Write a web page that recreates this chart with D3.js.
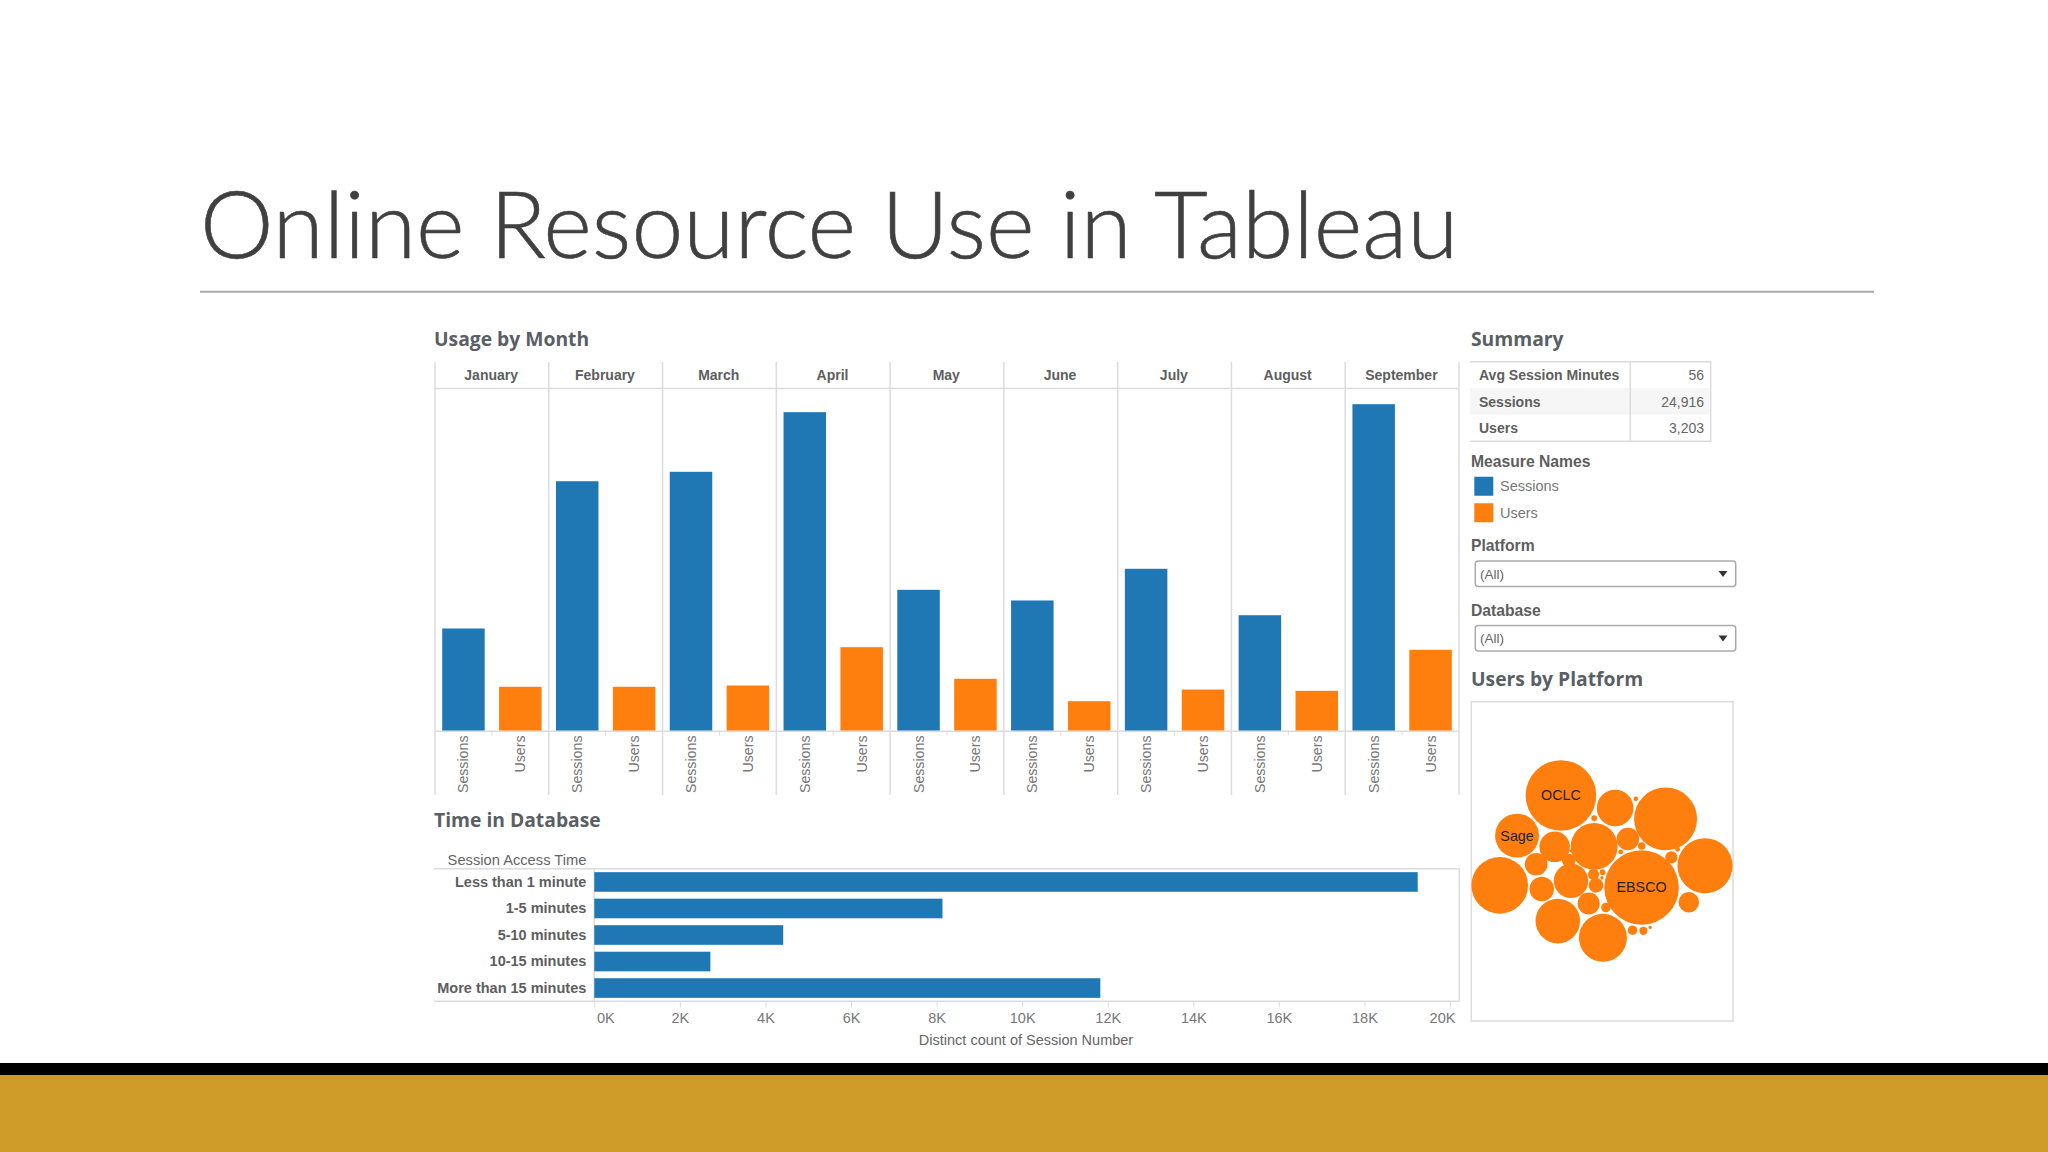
<!DOCTYPE html>
<html>
<head>
<meta charset="utf-8">
<style>
  html, body { margin: 0; padding: 0; background: #fff; }
  svg { display: block; }
  text { font-family: "Liberation Sans", Arial, sans-serif; }
  .section { font-family: "Open Sans", sans-serif; font-weight: 700; font-size: 19.3px; fill: #5a5f66; }
  .axis path, .axis line { stroke: #dcdce0; }
</style>
</head>
<body>
<svg id="chart" width="2048" height="1152"></svg>
<script src="https://cdn.jsdelivr.net/npm/d3@7"></script>
<script>
// ==========================================
// DATA
// ==========================================
const months = ['January', 'February', 'March', 'April', 'May', 'June', 'July', 'August', 'September'];
const measures = ['Sessions', 'Users'];
const sessionsByMonth = [1417, 3462, 3593, 4421, 1954, 1806, 2246, 1601, 4532];
const usersByMonth = [607, 607, 625, 1157, 718, 407, 569, 551, 1121];

const accessTimes = ['Less than 1 minute', '1-5 minutes', '5-10 minutes', '10-15 minutes', 'More than 15 minutes'];
const accessSessions = [19245, 8138, 4415, 2713, 11827];
const accessTicks = [0, 2000, 4000, 6000, 8000, 10000, 12000, 14000, 16000, 18000, 20000];

const summaryNames = ['Avg Session Minutes', 'Sessions', 'Users'];
const summaryValues = ['56', '24,916', '3,203'];

const filterNames = ['Platform', 'Database'];
const filterValues = ['(All)', '(All)'];

// order matters: the force layout seeds nodes on a spiral in array order
const platformUsers = [2, 11, 3, 1, 16, 5, 19, 1, 490, 105, 45, 8, 82, 13, 43, 194, 1, 45, 349, 203, 439, 268, 53, 118, 6, 170, 2, 175, 3, 37, 282, 2, 8];
const platformNames = ['', '', '', '', '', '', '', '', 'EBSCO', '', '', '', '', '', '', '', '', '', '', '', 'OCLC', '', '', '', '', 'Sage', '', '', '', '', '', '', ''];

const BLUE = '#1f77b4';
const ORANGE = '#ff7f0e';
const GRID = '#dcdce0';

const svg = d3.select('#chart');

// ==========================================
// SLIDE FRAME
// ==========================================
svg.append('text')
  .attr('x', 200).attr('y', 258)
  .style('font-family', 'Lato, sans-serif').style('font-weight', 300)
  .style('font-size', '93px').attr('fill', '#404040')
  .attr('stroke', '#404040').attr('stroke-width', 0.6)
  .text('Online Resource Use in Tableau');
svg.append('line').attr('x1', 200).attr('x2', 1874).attr('y1', 291.7).attr('y2', 291.7)
  .attr('stroke', '#aaa').attr('stroke-width', 2);
svg.append('rect').attr('x', 0).attr('y', 1063).attr('width', 2048).attr('height', 12).attr('fill', '#000');
svg.append('rect').attr('x', 0).attr('y', 1075).attr('width', 2048).attr('height', 77).attr('fill', '#cf9b29');

function sectionTitle(label, x, y) {
  svg.append('text').attr('class', 'section').attr('x', x).attr('y', y).text(label);
}

// ==========================================
// USAGE BY MONTH
// ==========================================
sectionTitle('Usage by Month', 434, 346);

const monthX = d3.scaleBand().domain(months).range([435, 1459]);
const measureX = d3.scaleBand().domain(measures).range([0, monthX.bandwidth()]).paddingInner(0.253).paddingOuter(0.1265);
const usageY = d3.scaleLinear().domain([0, 4750]).range([730.5, 388.5]);

const usage = svg.append('g');

usage.selectAll('line.divider')
  .data(months.concat('end'))
  .join('line')
  .attr('class', 'divider')
  .attr('x1', d => d === 'end' ? monthX.range()[1] : monthX(d))
  .attr('x2', d => d === 'end' ? monthX.range()[1] : monthX(d))
  .attr('y1', 362).attr('y2', 795)
  .attr('stroke', GRID).attr('stroke-width', 1.5);

usage.append('line').attr('x1', 435).attr('x2', 1459).attr('y1', usageY(4750)).attr('y2', usageY(4750))
  .attr('stroke', GRID).attr('stroke-width', 1.5);
usage.append('line').attr('x1', 435).attr('x2', 1459).attr('y1', usageY(0) + 0.7).attr('y2', usageY(0) + 0.7)
  .attr('stroke', GRID).attr('stroke-width', 1.5);

usage.selectAll('text.month')
  .data(months)
  .join('text')
  .attr('class', 'month')
  .attr('x', d => monthX(d) + monthX.bandwidth() / 2 - 0.7)
  .attr('y', 380)
  .attr('text-anchor', 'middle')
  .attr('font-size', 14).attr('font-weight', 700).attr('fill', '#5e5e5e')
  .text(d => d);

const monthGroups = usage.selectAll('g.month')
  .data(months)
  .join('g')
  .attr('class', 'month')
  .attr('transform', d => `translate(${monthX(d)},0)`);

monthGroups.selectAll('rect')
  .data((d, i) => [
    { key: 'Sessions', value: sessionsByMonth[i] },
    { key: 'Users', value: usersByMonth[i] }
  ])
  .join('rect')
  .attr('x', d => measureX(d.key))
  .attr('width', measureX.bandwidth())
  .attr('y', d => usageY(d.value))
  .attr('height', d => usageY(0) - usageY(d.value))
  .attr('fill', d => d.key === 'Sessions' ? BLUE : ORANGE);

monthGroups.each(function() {
  const axis = d3.select(this).append('g')
    .attr('class', 'axis')
    .attr('transform', `translate(0,${usageY(0) + 0.7})`)
    .call(d3.axisBottom(measureX).tickSize(0));
  axis.select('.domain').remove();
  axis.selectAll('text')
    .attr('transform', 'rotate(-90)')
    .attr('x', -4.3).attr('y', 0).attr('dy', '0.35em')
    .style('text-anchor', 'end')
    .style('font-family', '"Liberation Sans", sans-serif')
    .style('font-size', '14.2px')
    .attr('fill', '#777');
  // little separator tick between the two measures
  d3.select(this).append('line')
    .attr('x1', monthX.bandwidth() / 2).attr('x2', monthX.bandwidth() / 2)
    .attr('y1', usageY(0)).attr('y2', usageY(0) + 5)
    .attr('stroke', GRID).attr('stroke-width', 1);
});

// ==========================================
// TIME IN DATABASE
// ==========================================
sectionTitle('Time in Database', 434, 827);

const accessX = d3.scaleLinear().domain([0, 20217]).range([594.3, 1459.3]);
const accessY = d3.scaleBand().domain(accessTimes).range([868.7, 1001.3]).paddingInner(0.26).paddingOuter(0.13);

svg.append('text')
  .attr('x', 586.4).attr('y', 865)
  .attr('text-anchor', 'end').attr('font-size', 14.7).attr('fill', '#666')
  .text('Session Access Time');

// plot frame
svg.append('line').attr('x1', 434).attr('x2', 1459.3).attr('y1', 868.7).attr('y2', 868.7).attr('stroke', GRID).attr('stroke-width', 1.5);
svg.append('line').attr('x1', 434).attr('x2', 1459.3).attr('y1', 1001.3).attr('y2', 1001.3).attr('stroke', GRID).attr('stroke-width', 1.5);
svg.append('line').attr('x1', 1459.3).attr('x2', 1459.3).attr('y1', 868.7).attr('y2', 1001.3).attr('stroke', GRID).attr('stroke-width', 1.5);
svg.append('line').attr('x1', 594.3).attr('x2', 594.3).attr('y1', 868.7).attr('y2', 1001.3).attr('stroke', GRID).attr('stroke-width', 1.5);

svg.selectAll('rect.access')
  .data(accessTimes)
  .join('rect')
  .attr('class', 'access')
  .attr('x', accessX(0))
  .attr('y', d => accessY(d))
  .attr('width', (d, i) => accessX(accessSessions[i]) - accessX(0))
  .attr('height', accessY.bandwidth())
  .attr('fill', BLUE);

const accessLeft = svg.append('g')
  .attr('class', 'axis')
  .attr('transform', 'translate(594.3,0)')
  .call(d3.axisLeft(accessY).tickSize(0).tickPadding(8));
accessLeft.select('.domain').remove();
accessLeft.selectAll('text')
  .style('font-family', '"Liberation Sans", sans-serif')
  .style('font-size', '14.5px').style('font-weight', 700)
  .attr('fill', '#5e5e5e');

const accessBottom = svg.append('g')
  .attr('class', 'axis')
  .attr('transform', 'translate(0,1001.3)')
  .call(d3.axisBottom(accessX).tickValues(accessTicks).tickSize(6).tickPadding(5).tickFormat(d => (d / 1000) + 'K'));
accessBottom.select('.domain').remove();
accessBottom.selectAll('text')
  .style('font-family', '"Liberation Sans", sans-serif')
  .style('font-size', '14.5px')
  .attr('fill', '#777');
// first and last tick labels stay inside the plot, the way Tableau clamps them
accessBottom.selectAll('text').filter(d => d === 0).attr('x', 11);
accessBottom.selectAll('text').filter(d => d === 20000).attr('x', -8);

svg.append('text')
  .attr('x', 1026).attr('y', 1044.5)
  .attr('text-anchor', 'middle').attr('font-size', 14.5).attr('fill', '#666')
  .text('Distinct count of Session Number');

// ==========================================
// SUMMARY TABLE
// ==========================================
sectionTitle('Summary', 1471, 346);

const summaryY = d3.scaleBand().domain(summaryNames).range([361.7, 441.3]);
const table = svg.append('g');

table.selectAll('rect')
  .data(summaryNames)
  .join('rect')
  .attr('x', 1470).attr('width', 240.7)
  .attr('y', d => summaryY(d)).attr('height', summaryY.bandwidth())
  .attr('fill', (d, i) => i === 1 ? '#f6f6f6' : '#fff');

table.append('path')
  .attr('d', 'M1470,361.7H1710.7V441.3H1470M1630.3,361.7V441.3')
  .attr('fill', 'none').attr('stroke', GRID).attr('stroke-width', 1.5);

table.selectAll('text.name')
  .data(summaryNames)
  .join('text')
  .attr('class', 'name')
  .attr('x', 1479)
  .attr('y', d => summaryY(d) + summaryY.bandwidth() / 2 + 5)
  .attr('font-size', 14).attr('font-weight', 700).attr('fill', '#5e5e5e')
  .text(d => d);

table.selectAll('text.value')
  .data(summaryValues)
  .join('text')
  .attr('class', 'value')
  .attr('x', 1704)
  .attr('y', (d, i) => summaryY(summaryNames[i]) + summaryY.bandwidth() / 2 + 5)
  .attr('text-anchor', 'end')
  .attr('font-size', 14).attr('fill', '#666')
  .text(d => d);

// ==========================================
// LEGEND
// ==========================================
svg.append('text').attr('x', 1471).attr('y', 467)
  .attr('font-size', 15.7).attr('font-weight', 700).attr('fill', '#5e5e5e')
  .text('Measure Names');

const legendY = d3.scaleBand().domain(measures).range([473, 526]);
const legendColor = d3.scaleOrdinal().domain(measures).range([BLUE, ORANGE]);

svg.selectAll('rect.legend')
  .data(measures)
  .join('rect')
  .attr('class', 'legend')
  .attr('x', 1474.3).attr('width', 19).attr('height', 19)
  .attr('y', d => legendY(d) + legendY.bandwidth() / 2 - 9.5)
  .attr('fill', d => legendColor(d));

svg.selectAll('text.legend')
  .data(measures)
  .join('text')
  .attr('class', 'legend')
  .attr('x', 1500)
  .attr('y', d => legendY(d) + legendY.bandwidth() / 2 + 5)
  .attr('font-size', 14.5).attr('fill', '#777')
  .text(d => d);

// ==========================================
// FILTERS
// ==========================================
const filterY = d3.scaleBand().domain(filterNames).range([532, 661]);
const filters = svg.selectAll('g.filter')
  .data(filterNames)
  .join('g')
  .attr('class', 'filter')
  .attr('transform', d => `translate(1471,${filterY(d)})`);

filters.append('text').attr('y', 19)
  .attr('font-size', 15.7).attr('font-weight', 700).attr('fill', '#5e5e5e')
  .text(d => d);
filters.append('rect')
  .attr('x', 4.3).attr('y', 29).attr('width', 260.4).attr('height', 25.6).attr('rx', 3)
  .attr('fill', '#fff').attr('stroke', '#aaa').attr('stroke-width', 1.5);
filters.append('text').attr('x', 9).attr('y', 46.5)
  .attr('font-size', 13.5).attr('fill', '#666')
  .text((d, i) => filterValues[i]);
filters.append('path').attr('d', 'M247.5,39h9l-4.5,6z').attr('fill', '#333');

// ==========================================
// USERS BY PLATFORM
// ==========================================
sectionTitle('Users by Platform', 1471, 686);

svg.append('rect')
  .attr('x', 1471.3).attr('y', 701.7).attr('width', 261.7).attr('height', 319.3)
  .attr('fill', '#fff').attr('stroke', GRID).attr('stroke-width', 1.5);

const bubbleR = d3.scaleSqrt().domain([0, d3.max(platformUsers)]).range([0, 37.3]);
const nodes = platformUsers.map((users, i) => ({ users, name: platformNames[i] }));

// grow the circles slowly so they keep the order they were seeded in
const collide = d3.forceCollide().iterations(3);
const sim = d3.forceSimulation(nodes)
  .force('x', d3.forceX(0).strength(0.036))
  .force('y', d3.forceY(0).strength(0.062))
  .force('collide', collide)
  .stop();
for (let t = 0; t < 500; t++) {
  const grow = Math.min(1, t / 250);
  collide.radius(d => bubbleR(d.users) * grow + 1);
  sim.alpha(0.5).tick();
}

const xExtent = [d3.min(nodes, d => d.x - bubbleR(d.users)), d3.max(nodes, d => d.x + bubbleR(d.users))];
const yExtent = [d3.min(nodes, d => d.y - bubbleR(d.users)), d3.max(nodes, d => d.y + bubbleR(d.users))];
const bubbles = svg.append('g')
  .attr('transform', `translate(${1602 - (xExtent[0] + xExtent[1]) / 2},${861 - (yExtent[0] + yExtent[1]) / 2})`);

bubbles.selectAll('circle')
  .data(nodes)
  .join('circle')
  .attr('cx', d => d.x).attr('cy', d => d.y)
  .attr('r', d => bubbleR(d.users))
  .attr('fill', ORANGE);

bubbles.selectAll('text')
  .data(nodes.filter(d => d.name))
  .join('text')
  .attr('x', d => d.x).attr('y', d => d.y + 5)
  .attr('text-anchor', 'middle')
  .attr('font-size', 14.3).attr('fill', '#222')
  .text(d => d.name);
</script>
</body>
</html>
